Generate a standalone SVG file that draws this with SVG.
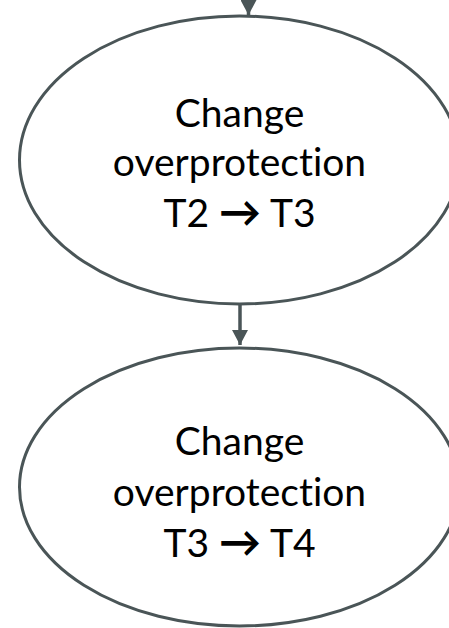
<svg xmlns="http://www.w3.org/2000/svg" width="449" height="628" viewBox="0 0 449 628">
  <style>
    .node { fill: #ffffff; stroke: #4A5557; stroke-width: 3; }
    .label { font-family: "Lato", "Open Sans", "DejaVu Sans", sans-serif; font-size: 39px; fill: #000000; text-anchor: middle; font-variant-ligatures: none; font-feature-settings: "liga" 0, "clig" 0; }
    .arr { font-weight: bold; font-size: 42px; }
    .conn { stroke: #4A5557; stroke-width: 3.5; fill: none; marker-end: url(#arrow); }
  </style>
  <defs>
    <marker id="arrow" markerUnits="userSpaceOnUse" markerWidth="15" markerHeight="16" viewBox="0 0 15 16" refX="15" refY="8" orient="auto">
      <path d="M0,0 L15,8 L0,16 z" fill="#4A5557"/>
    </marker>
  </defs>
  <g id="connectors">
    <line class="conn" x1="248.5" y1="-30" x2="248.5" y2="15"/>
    <line class="conn" x1="240" y1="303" x2="240" y2="345"/>
  </g>
  <g id="node1">
    <ellipse class="node" cx="239.5" cy="160" rx="220" ry="144"/>
    <text class="label" x="239.5" y="127">Change</text>
    <text class="label" x="239.5" y="176">overprotection</text>
    <text class="label" x="239.5" y="227">T2 <tspan class="arr">→</tspan> T3</text>
  </g>
  <g id="node2">
    <ellipse class="node" cx="239.5" cy="487" rx="220" ry="139"/>
    <text class="label" x="239.5" y="455">Change</text>
    <text class="label" x="239.5" y="506">overprotection</text>
    <text class="label" x="239.5" y="557">T3 <tspan class="arr">→</tspan> T4</text>
  </g>
</svg>
